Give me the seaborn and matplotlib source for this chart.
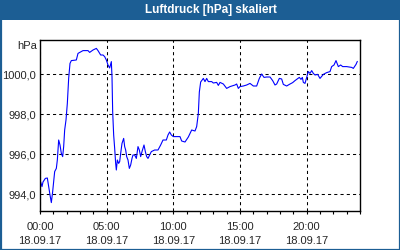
import matplotlib
matplotlib.use("Agg")
import matplotlib.pyplot as plt
import matplotlib.dates as mdates
from matplotlib.patches import Rectangle
from matplotlib.ticker import FuncFormatter
import pandas as pd
import seaborn as sns

title = "Luftdruck [hPa] skaliert"
unit = "hPa"
day = "2017-09-18"

hours = [0.05, 0.15, 0.225, 0.4, 0.55, 0.65, 0.75, 0.85, 0.95, 1.025, 1.1, 1.225, 1.3, 1.4, 1.5, 1.6, 1.7,
         1.775, 1.85, 1.95, 2.05, 2.15, 2.25, 2.35, 2.725, 2.85, 3.1, 3.225, 3.6, 3.725, 3.975, 4.225, 4.35,
         4.55, 4.725, 4.85, 4.975, 5.1, 5.225, 5.35, 5.4, 5.45, 5.525, 5.6, 5.675, 5.725, 5.8, 5.9, 5.975,
         6.05, 6.15, 6.275, 6.35, 6.425, 6.5, 6.6, 6.7, 6.8, 6.9, 6.975, 7.1, 7.225, 7.35, 7.45, 7.55, 7.65,
         7.8, 7.9, 8.0, 8.1, 8.225, 8.35, 8.6, 8.85, 9.05, 9.225, 9.475, 9.6, 9.725, 9.85, 10.0, 10.5, 10.625,
         10.875, 11.125, 11.375, 11.625, 11.75, 11.875, 11.95, 12.05, 12.25, 12.375, 12.5, 12.625, 12.875,
         13.0, 13.25, 13.375, 13.5, 13.75, 14.0, 14.25, 14.625, 14.75, 14.875, 15.0, 15.25, 15.5, 15.75,
         16.0, 16.25, 16.45, 16.625, 16.8, 17.0, 17.25, 17.45, 17.625, 17.75, 17.95, 18.125, 18.25, 18.5,
         18.7, 18.95, 19.125, 19.25, 19.45, 19.575, 19.675, 19.75, 19.875, 20.0, 20.125, 20.25, 20.375,
         20.5, 20.625, 20.825, 21.0, 21.25, 21.5, 21.75, 21.875, 22.05, 22.2, 22.375, 22.55, 22.7, 23.0,
         23.375, 23.5, 23.7, 23.8]
pressure = [994.6, 994.37, 994.6, 994.78, 994.8, 994.37, 993.95, 993.57, 994.12, 994.6, 995.12, 995.28,
            995.7, 996.7, 996.45, 996.03, 995.87, 996.37, 997.2, 997.7, 998.53, 999.78, 1000.53, 1000.67,
            1000.7, 1001.03, 1001.12, 1001.17, 1001.17, 1001.08, 1001.2, 1001.28, 1001.17, 1000.95, 1000.95,
            1000.87, 1000.7, 1000.45, 1000.3, 1000.62, 999.87, 998.12, 996.95, 996.28, 995.53, 995.2, 995.7,
            995.53, 995.62, 996.03, 996.53, 996.78, 996.37, 996.2, 995.87, 995.7, 995.28, 995.45, 995.78,
            995.95, 995.95, 995.78, 996.37, 996.2, 995.87, 996.12, 996.45, 996.12, 995.87, 995.78, 995.95,
            996.12, 996.2, 996.2, 996.45, 996.7, 996.7, 996.95, 997.1, 996.95, 996.87, 996.87, 996.65,
            996.6, 996.85, 997.2, 997.15, 997.37, 998.03, 999.1, 999.6, 999.78, 999.62, 999.78, 999.62,
            999.62, 999.55, 999.58, 999.43, 999.58, 999.5, 999.28, 999.37, 999.45, 999.5, 999.28, 999.37,
            999.4, 999.45, 999.53, 999.4, 999.4, 999.78, 1000.0, 999.83, 999.85, 999.85, 999.67, 999.45,
            999.5, 999.78, 999.75, 999.48, 999.4, 999.48, 999.57, 999.67, 999.73, 999.83, 999.73, 999.83,
            999.58, 999.53, 999.83, 1000.12, 1000.03, 1000.17, 1000.03, 999.95, 999.98, 999.78, 999.98,
            1000.07, 1000.12, 1000.37, 1000.45, 1000.67, 1000.37, 1000.45, 1000.37, 1000.37, 1000.33,
            1000.28, 1000.48, 1000.63]
y_ticks = [994, 996, 998, 1000]
x_tick_hours = [0, 5, 10, 15, 20]

sns.set_style("white")
plt.rcParams["font.family"] = ["Liberation Sans", "DejaVu Sans"]

start = pd.Timestamp(day)
df = pd.DataFrame({"time": start + pd.to_timedelta(hours, unit="h"), "p": pressure})

fig = plt.figure(figsize=(4, 2.5), dpi=100, facecolor="white")
ax = fig.add_axes([40 / 400, 1 - 211 / 250, 320 / 400, 171 / 250])
ax.set_facecolor("white")

sns.lineplot(data=df, x="time", y="p", ax=ax, color="#0000ff", linewidth=0.8)

ax.set_xlim(start, start + pd.Timedelta(hours=24))
ax.set_ylim(993.15, 1001.7)
ax.set_xticks([start + pd.Timedelta(hours=h) for h in x_tick_hours])
ax.xaxis.set_major_formatter(mdates.DateFormatter("%H:%M\n%d.%m.%y"))
ax.xaxis.set_minor_locator(mdates.HourLocator())
ax.set_yticks(y_ticks)
ax.yaxis.set_major_formatter(FuncFormatter(lambda v, p: f"{v:.1f}".replace(".", ",")))
ax.set_xlabel("")
ax.set_ylabel("")

ax.grid(True, color="black", linestyle=(0, (3, 3)), linewidth=0.75)
for s in ax.spines.values():
    s.set_color("black")
    s.set_linewidth(1.0)
ax.tick_params(axis="x", which="both", direction="out", length=2.2, width=0.8, color="black",
               labelsize=8, pad=6, bottom=True)
ax.tick_params(axis="y", length=0, labelsize=8, pad=3)
for lab in ax.get_xticklabels():
    lab.set_linespacing(1.4)

fig.text(37 / 400, 1 - 46 / 250, unit, ha="right", va="center", fontsize=8)

# title bar and border
fig.patches.append(Rectangle((0, 1 - 20 / 250), 1, 20 / 250, transform=fig.transFigure,
                             facecolor="#1c5e94", edgecolor="none", zorder=0))
fig.patches.append(Rectangle((0.5 / 400, 0.5 / 250), 399 / 400, 249 / 250, transform=fig.transFigure,
                             facecolor="none", edgecolor="#1c5e94", linewidth=1.6, zorder=5))
fig.text(211 / 400, 1 - 10 / 250, title, ha="center", va="center", fontsize=8.5,
         fontweight="bold", color="white")

fig.savefig("out.png", dpi=100, facecolor=fig.get_facecolor())
